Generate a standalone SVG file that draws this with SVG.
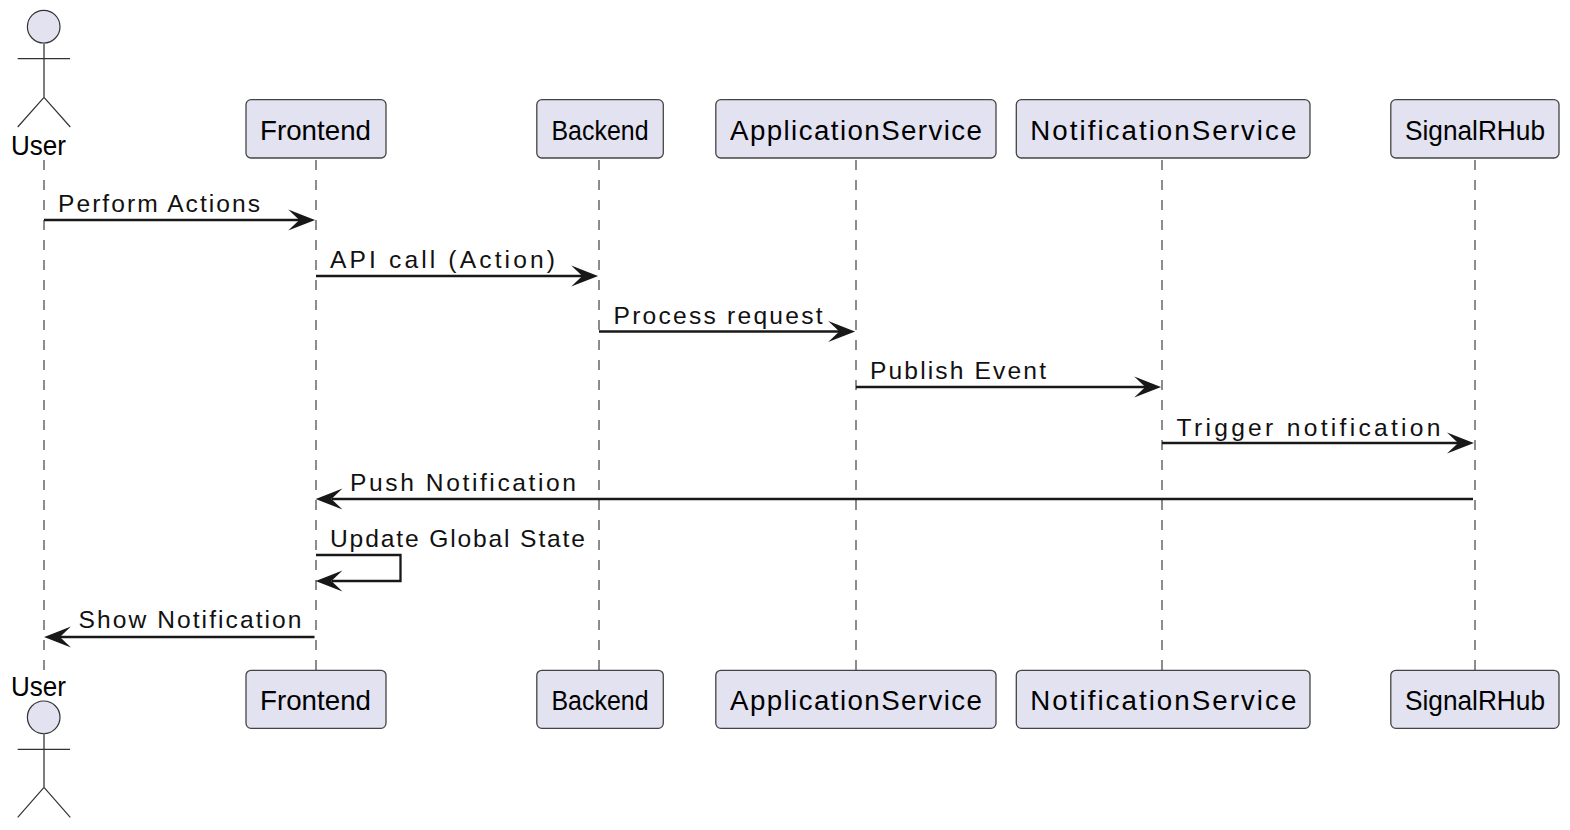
<svg xmlns="http://www.w3.org/2000/svg" width="1570" height="830" viewBox="0 0 1570 830">
<style>
text{font-family:"Liberation Sans",Arial,sans-serif;fill:#000}
.p{font-size:27.7px}
.m{font-size:24.6px;fill:#111}
.box{fill:#E2E2F0;stroke:#444;stroke-width:1.3}
.head{fill:#E2E2F0;stroke:#333;stroke-width:1.2}
.limb{fill:none;stroke:#333;stroke-width:1.2}
.body{fill:none;stroke:#777;stroke-width:1.9}
.ll{fill:none;stroke:#8c8c8c;stroke-width:2;stroke-dasharray:10 10}
.msg{fill:none;stroke:#181818;stroke-width:2.3}
.tip{fill:#181818;stroke:#181818;stroke-width:1.8;stroke-miterlimit:10}
</style>
<defs>
<path id="ar" class="tip" d="M-2 0L-22.500 -8L-14 0L-22.500 8Z"/>
<path id="al" class="tip" d="M2 0L22.500 -8L14 0L22.500 8Z"/>
</defs>
<g id="lifelines">
<path class="ll" d="M44 160V670"/><path class="ll" d="M316 160V670"/><path class="ll" d="M599 160V670"/><path class="ll" d="M856 160V670"/><path class="ll" d="M1162 160V670"/><path class="ll" d="M1475 160V670"/>
</g>
<g id="user-top">
<circle class="head" cx="43.700" cy="26.700" r="16.300"/>
<path class="body" d="M44 43V97.300"/>
<path class="limb" d="M17.700 58.700H70M44 97.300L17.700 127M44 97.300L70.300 127"/>
<text class="p" x="11" y="155" textLength="55" lengthAdjust="spacingAndGlyphs">User</text>
</g>
<g id="user-bottom">
<circle class="head" cx="43.700" cy="717.300" r="16.300"/>
<path class="body" d="M44 733.600V787.300"/>
<path class="limb" d="M17.700 749.300H70M44 787.300L17.700 817.300M44 787.300L70.300 817.300"/>
<text class="p" x="11" y="696" textLength="55" lengthAdjust="spacingAndGlyphs">User</text>
</g>
<g id="frontend-top"><rect class="box" x="246" y="99.700" width="140" height="58.300" rx="5"/><text class="p" x="260" y="139.500" textLength="111">Frontend</text></g>
<g id="backend-top"><rect class="box" x="536.800" y="99.700" width="126.500" height="58.300" rx="5"/><text class="p" x="551.500" y="139.500" textLength="97" lengthAdjust="spacingAndGlyphs">Backend</text></g>
<g id="applicationservice-top"><rect class="box" x="715.800" y="99.700" width="280.200" height="58.300" rx="5"/><text class="p" x="730" y="139.500" textLength="252">ApplicationService</text></g>
<g id="notificationservice-top"><rect class="box" x="1016.300" y="99.700" width="293.700" height="58.300" rx="5"/><text class="p" x="1030.300" y="139.500" textLength="266">NotificationService</text></g>
<g id="signalrhub-top"><rect class="box" x="1390.800" y="99.700" width="168.200" height="58.300" rx="5"/><text class="p" x="1405" y="139.500" textLength="140" lengthAdjust="spacingAndGlyphs">SignalRHub</text></g>
<g id="frontend-bottom"><rect class="box" x="246" y="670.300" width="140" height="58" rx="5"/><text class="p" x="260" y="710" textLength="111">Frontend</text></g>
<g id="backend-bottom"><rect class="box" x="536.800" y="670.300" width="126.500" height="58" rx="5"/><text class="p" x="551.500" y="710" textLength="97" lengthAdjust="spacingAndGlyphs">Backend</text></g>
<g id="applicationservice-bottom"><rect class="box" x="715.800" y="670.300" width="280.200" height="58" rx="5"/><text class="p" x="730" y="710" textLength="252">ApplicationService</text></g>
<g id="notificationservice-bottom"><rect class="box" x="1016.300" y="670.300" width="293.700" height="58" rx="5"/><text class="p" x="1030.300" y="710" textLength="266">NotificationService</text></g>
<g id="signalrhub-bottom"><rect class="box" x="1390.800" y="670.300" width="168.200" height="58" rx="5"/><text class="p" x="1405" y="710" textLength="140" lengthAdjust="spacingAndGlyphs">SignalRHub</text></g>
<g id="connectors">
<path class="msg" d="M44 220H300"/><use href="#ar" x="314.700" y="220"/>
<path class="msg" d="M316 276H583"/><use href="#ar" x="597.700" y="276"/>
<path class="msg" d="M599 331.500H840"/><use href="#ar" x="854.700" y="331.500"/>
<path class="msg" d="M856 387H1146"/><use href="#ar" x="1160.700" y="387"/>
<path class="msg" d="M1162 443H1459"/><use href="#ar" x="1473.500" y="443"/>
<path class="msg" d="M332 499H1473"/><use href="#al" x="316" y="499"/>
<path class="msg" d="M316 555H400.500V581H332"/><use href="#al" x="316" y="581"/>
<path class="msg" d="M60 637H314.500"/><use href="#al" x="44.500" y="637"/>
</g>
<g id="labels">
<text class="m" x="58" y="212" textLength="202">Perform Actions</text>
<text class="m" x="330" y="267.500" textLength="225">API call (Action)</text>
<text class="m" x="613.500" y="323.500" textLength="209">Process request</text>
<text class="m" x="870" y="379" textLength="176">Publish Event</text>
<text class="m" x="1176.500" y="435.500" textLength="264">Trigger notification</text>
<text class="m" x="350" y="491" textLength="226">Push Notification</text>
<text class="m" x="330" y="547" textLength="255">Update Global State</text>
<text class="m" x="78.500" y="628" textLength="223">Show Notification</text>
</g>
</svg>
